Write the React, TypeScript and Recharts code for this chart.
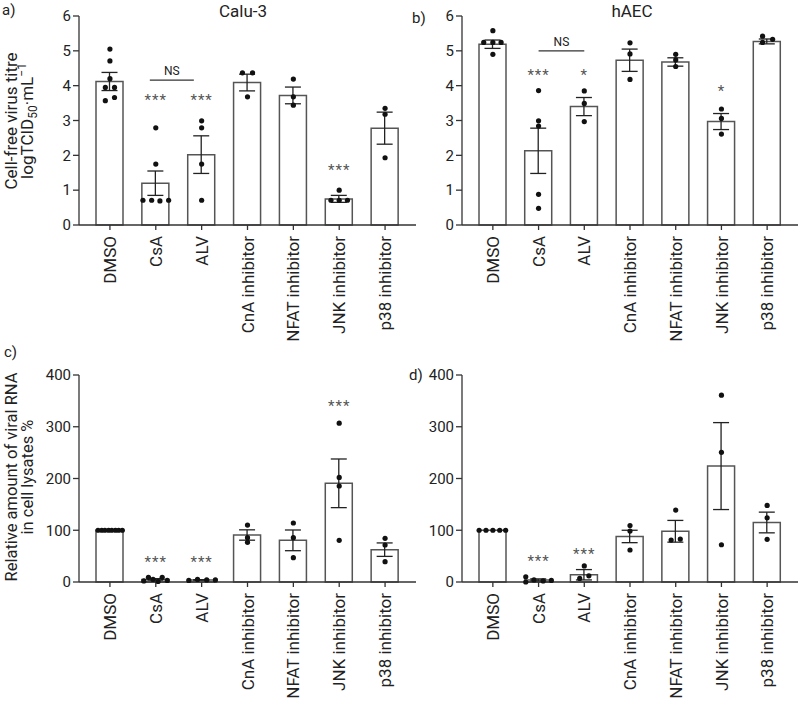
import React from 'react';
import {
  ComposedChart,
  Bar,
  ErrorBar,
  Scatter,
  XAxis,
  YAxis,
  ReferenceLine,
} from 'recharts';

const categories = ['DMSO', 'CsA', 'ALV', 'CnA inhibitor', 'NFAT inhibitor', 'JNK inhibitor', 'p38 inhibitor'];

// a) Calu-3, cell-free virus titre (logTCID50/mL)
const calu3Mean = [4.12, 1.2, 2.02, 4.09, 3.72, 0.75, 2.78];
const calu3Sem = [0.26, 0.35, 0.54, 0.24, 0.24, 0.1, 0.46];
const calu3Points = [
  [5.05, 4.71, 4.2, 3.95, 3.95, 3.66, 3.57],
  [2.79, 1.75, 0.71, 0.71, 0.69, 0.71],
  [2.99, 2.79, 1.75, 0.71],
  [4.37, 4.37, 3.68],
  [4.19, 3.68, 3.44],
  [1.0, 0.71, 0.71, 0.71],
  [3.35, 3.18, 1.93],
];
const calu3Jitter = [
  [0, 0, 0, -0.1, 0.1, 0.1, -0.1],
  [0, 0, -0.28, -0.09, 0.09, 0.28],
  [0, 0, 0, 0],
  [-0.11, 0.11, 0],
  [0, 0, 0],
  [0, -0.18, 0, 0.18],
  [0, 0, 0],
];
const calu3StarCat = [1, 2, 5];
const calu3StarY = [3.65, 3.65, 1.64];
const calu3StarText = ['***', '***', '***'];
const calu3Ns = [0.87, 1.83, 4.16];

// b) hAEC, cell-free virus titre
const haecMean = [5.19, 2.13, 3.4, 4.73, 4.68, 2.97, 5.27];
const haecSem = [0.12, 0.65, 0.26, 0.32, 0.12, 0.23, 0.07];
const haecPoints = [
  [5.58, 5.24, 5.24, 5.24, 4.9],
  [3.86, 2.99, 2.84, 0.88, 0.48],
  [3.85, 3.49, 2.97],
  [5.23, 4.91, 4.18],
  [4.9, 4.74, 4.55],
  [3.33, 3.06, 2.61],
  [5.42, 5.33, 5.24],
];
const haecJitter = [
  [0, -0.2, 0, 0.18, 0],
  [0, 0, 0, 0, 0],
  [0, 0, 0],
  [0, 0, 0],
  [0, 0, 0],
  [0, 0, 0],
  [-0.1, 0.12, -0.1],
];
const haecStarCat = [1, 2, 5];
const haecStarY = [4.39, 4.39, 3.93];
const haecStarText = ['***', '*', '*'];
const haecNs = [1.0, 2.0, 5.0];

// c) Calu-3, relative viral RNA in cell lysates (%)
const calu3RnaMean = [100, 5, 4, 90.8, 80.5, 190.7, 62.5];
const calu3RnaSem = [0, 1.5, 0.5, 10, 20, 47, 13];
const calu3RnaPoints = [
  [100, 100, 100, 100, 100, 100, 100, 100],
  [2, 9, 5, 1, 9, 3],
  [3, 5, 4, 4],
  [110, 85.7, 76.6],
  [114, 85.7, 47],
  [307, 202, 185.5, 80.5],
  [84.4, 71.5, 39.3],
];
const calu3RnaJitter = [
  [-0.26, -0.18, -0.11, -0.03, 0.04, 0.12, 0.19, 0.27],
  [-0.26, -0.16, -0.06, 0.05, 0.14, 0.25],
  [-0.28, -0.09, 0.11, 0.3],
  [0, 0, 0],
  [0, 0, 0],
  [0, 0, 0, 0],
  [0, 0, 0],
];
const calu3RnaStarCat = [1, 2, 5];
const calu3RnaStarY = [44, 44, 344];
const calu3RnaStarText = ['***', '***', '***'];

// d) hAEC, relative viral RNA in cell lysates (%)
const haecRnaMean = [100, 4, 14, 88, 98, 224, 115];
const haecRnaSem = [0, 2, 10, 12, 21, 84, 20];
const haecRnaPoints = [
  [100, 100, 100, 100, 100],
  [10, 0, 4, 2, 3],
  [31, 12, 7],
  [109, 98.5, 61.8],
  [139, 81, 83],
  [361, 250.6, 72],
  [148, 124, 82.4],
];
const haecRnaJitter = [
  [-0.3, -0.15, 0, 0.15, 0.28],
  [-0.28, -0.28, -0.1, 0.1, 0.28],
  [0, 0.1, -0.1],
  [0, 0, 0],
  [0, -0.1, 0.1],
  [0, 0, 0],
  [0, 0, 0],
];
const haecRnaStarCat = [1, 2];
const haecRnaStarY = [46, 58];
const haecRnaStarText = ['***', '***'];

const FONT = 'Roboto, "DejaVu Sans", sans-serif';
const INK = '#222';

type PanelProps = {
  mean: number[];
  sem: number[];
  points: number[][];
  jitter: number[][];
  starCat: number[];
  starY: number[];
  starText: string[];
  ns?: number[];
  domain: [number, number];
  ticks: number[];
  width: number;
  height: number;
  margin: { top: number; right: number; left: number; bottom: number };
  xAxisHeight: number;
};

const CatTick = (props: any) => {
  const { x, y, payload } = props;
  return (
    <g transform={`translate(${x},${y})`}>
      <text
        transform="rotate(-90)"
        x={-4}
        y={0}
        dy="0.36em"
        textAnchor="end"
        fontSize={17}
        fontFamily={FONT}
        fill={INK}
      >
        {payload.value}
      </text>
    </g>
  );
};

const Dot = (p: any) => <circle cx={p.cx} cy={p.cy} r={2.6} fill="#111" />;

const Star = (p: any) => (
  <text
    x={p.cx}
    y={p.cy}
    dy="0.5em"
    textAnchor="middle"
    fontSize={15}
    letterSpacing={1}
    fontFamily={FONT}
    fill="#555"
  >
    {p.payload.t}
  </text>
);

function Panel(props: PanelProps) {
  const bars = categories.map((name, i) => ({ name, mean: props.mean[i], sem: props.sem[i] }));
  const pts = props.points.flatMap((vals, i) =>
    vals.map((v, j) => ({ x: i + props.jitter[i][j], y: v }))
  );
  const stars = props.starCat.map((c, i) => ({ x: c, y: props.starY[i], t: props.starText[i] }));

  return (
    <ComposedChart width={props.width} height={props.height} data={bars} margin={props.margin}>
      <XAxis
        dataKey="name"
        type="category"
        padding={{ left: 8, right: 8 }}
        height={props.xAxisHeight}
        interval={0}
        tickSize={5}
        tick={<CatTick />}
        stroke="#333"
        strokeWidth={1.3}
      />
      <XAxis
        xAxisId="pts"
        dataKey="x"
        type="number"
        domain={[-0.5, 6.5]}
        padding={{ left: 8, right: 8 }}
        allowDataOverflow
        hide
      />
      <YAxis
        width={40}
        domain={props.domain}
        ticks={props.ticks}
        interval={0}
        tickSize={6}
        stroke="#333"
        strokeWidth={1.3}
        tick={{ fontSize: 15, fontFamily: FONT, fill: INK }}
      />
      <Bar
        dataKey="mean"
        fill="#fff"
        stroke="#555"
        strokeWidth={1.5}
        barSize={27}
        isAnimationActive={false}
      >
        <ErrorBar dataKey="sem" width={8} stroke="#222" strokeWidth={1.3} direction="y" />
      </Bar>
      <Scatter
        xAxisId="pts"
        data={pts}
        dataKey="y"
        shape={Dot}
        isAnimationActive={false}
      />
      <Scatter
        xAxisId="pts"
        data={stars}
        dataKey="y"
        shape={Star}
        isAnimationActive={false}
      />
      {props.ns && (
        <ReferenceLine
          xAxisId="pts"
          segment={[
            { x: props.ns[0], y: props.ns[2] },
            { x: props.ns[1], y: props.ns[2] },
          ]}
          stroke="#333"
          strokeWidth={1.2}
          label={{ value: 'NS', position: 'top', offset: 5, fontSize: 12, fontFamily: FONT, fill: INK }}
        />
      )}
    </ComposedChart>
  );
}

export default function App() {
  const titreTicks = [0, 1, 2, 3, 4, 5, 6];
  const rnaTicks = [0, 100, 200, 300, 400];
  const topSize = { height: 350, xAxisHeight: 120 };
  const botSize = { height: 351, xAxisHeight: 115 };

  return (
    <div style={{ position: 'absolute', left: 0, top: 0, width: 798, height: 701, background: '#fff', fontFamily: FONT }}>
      <div style={{ position: 'absolute', left: 0, top: 0 }}>
        <Panel
          mean={calu3Mean}
          sem={calu3Sem}
          points={calu3Points}
          jitter={calu3Jitter}
          starCat={calu3StarCat}
          starY={calu3StarY}
          starText={calu3StarText}
          ns={calu3Ns}
          domain={[0, 6]}
          ticks={titreTicks}
          width={420}
          {...topSize}
          margin={{ top: 16, right: 4, left: 39, bottom: 5 }}
        />
      </div>
      <div style={{ position: 'absolute', left: 400, top: 0 }}>
        <Panel
          mean={haecMean}
          sem={haecSem}
          points={haecPoints}
          jitter={haecJitter}
          starCat={haecStarCat}
          starY={haecStarY}
          starText={haecStarText}
          ns={haecNs}
          domain={[0, 6]}
          ticks={titreTicks}
          width={398}
          {...topSize}
          margin={{ top: 16, right: 0, left: 22, bottom: 5 }}
        />
      </div>
      <div style={{ position: 'absolute', left: 0, top: 350 }}>
        <Panel
          mean={calu3RnaMean}
          sem={calu3RnaSem}
          points={calu3RnaPoints}
          jitter={calu3RnaJitter}
          starCat={calu3RnaStarCat}
          starY={calu3RnaStarY}
          starText={calu3RnaStarText}
          domain={[0, 400]}
          ticks={rnaTicks}
          width={420}
          {...botSize}
          margin={{ top: 25, right: 4, left: 39, bottom: 4 }}
        />
      </div>
      <div style={{ position: 'absolute', left: 400, top: 350 }}>
        <Panel
          mean={haecRnaMean}
          sem={haecRnaSem}
          points={haecRnaPoints}
          jitter={haecRnaJitter}
          starCat={haecRnaStarCat}
          starY={haecRnaStarY}
          starText={haecRnaStarText}
          domain={[0, 400]}
          ticks={rnaTicks}
          width={398}
          {...botSize}
          margin={{ top: 25, right: 0, left: 22, bottom: 4 }}
        />
      </div>

      {/* panel letters, titles and y-axis titles */}
      <svg
        width={798}
        height={701}
        style={{ position: 'absolute', left: 0, top: 0, pointerEvents: 'none' }}
        fontFamily={FONT}
        fill={INK}
      >
        <text x={2} y={15} fontSize={15}>a)</text>
        <text x={243} y={17} fontSize={17} textAnchor="middle">Calu-3</text>
        <text x={412} y={23} fontSize={15}>b)</text>
        <text x={632} y={17} fontSize={17} textAnchor="middle">hAEC</text>
        <text x={4} y={357} fontSize={15}>c)</text>
        <text x={409} y={380} fontSize={15}>d)</text>

        <text transform="translate(17,121) rotate(-90)" textAnchor="middle" fontSize={17}>
          Cell-free virus titre
        </text>
        <text transform="translate(33,121) rotate(-90)" textAnchor="middle" fontSize={17}>
          logTCID<tspan fontSize={12} dy={4}>50</tspan>
          <tspan dy={-4}>·mL</tspan>
          <tspan fontSize={12} dy={-7}>−1</tspan>
        </text>
        <text transform="translate(17,477) rotate(-90)" textAnchor="middle" fontSize={16.5}>
          Relative amount of viral RNA
        </text>
        <text transform="translate(33,477) rotate(-90)" textAnchor="middle" fontSize={16.5}>
          in cell lysates %
        </text>
      </svg>
    </div>
  );
}
